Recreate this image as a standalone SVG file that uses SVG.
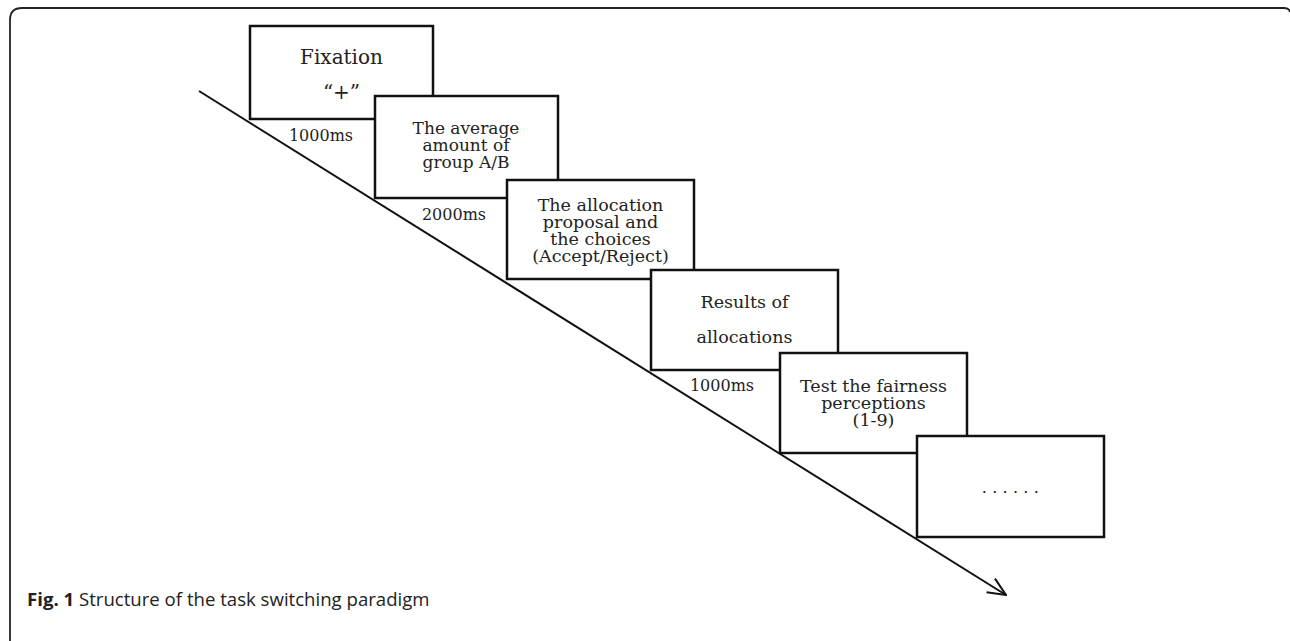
<svg xmlns="http://www.w3.org/2000/svg" width="1290" height="641" viewBox="0 0 1290 641">
<defs>
<style>
.box{fill:#fff;stroke:#111;stroke-width:2.5}
.t{font-family:"DejaVu Serif","Liberation Serif",serif;fill:#222;text-anchor:middle}
.ms{font-family:"DejaVu Serif","Liberation Serif",serif;fill:#222;text-anchor:middle;font-size:16px}
.cap{font-family:"Open Sans","Noto Sans",sans-serif;font-size:18.6px;fill:#222}
</style>
<marker id="arr" viewBox="0 0 20 20" refX="19" refY="10" markerWidth="20" markerHeight="20" markerUnits="userSpaceOnUse" orient="auto">
<path d="M1,2 L19,10 L1,18" fill="none" stroke="#111" stroke-width="2"/>
</marker>
</defs>
<rect width="1290" height="641" fill="#fff"/>
<path d="M10,641 L10,20 Q10,8 22,8 L1284,8 Q1289,8 1290,12" fill="none" stroke="#222" stroke-width="1.8"/>
<g id="connectors">
<line x1="199" y1="91" x2="1006" y2="595" stroke="#111" stroke-width="2" marker-end="url(#arr)"/>
</g>
<g id="labels">
<text class="ms" x="321" y="141">1000ms</text>
<text class="ms" x="454" y="220">2000ms</text>
<text class="ms" x="722" y="391">1000ms</text>
</g>
<g id="n1">
<rect class="box" x="250" y="26" width="183" height="93"/>
<text class="t" x="341.5" y="64" font-size="20">Fixation</text>
<text class="t" x="341.5" y="99" font-size="20">“+”</text>
</g>
<g id="n2">
<rect class="box" x="375" y="96" width="183" height="102"/>
<text class="t" x="466" y="134" font-size="17">The average</text>
<text class="t" x="466" y="151" font-size="17">amount of</text>
<text class="t" x="466" y="168" font-size="17">group A/B</text>
</g>
<g id="n3">
<rect class="box" x="507" y="180" width="187" height="99"/>
<text class="t" x="600.5" y="211" font-size="17.5">The allocation</text>
<text class="t" x="600.5" y="228" font-size="17.5">proposal and</text>
<text class="t" x="600.5" y="245" font-size="17.5">the choices</text>
<text class="t" x="600.5" y="262" font-size="17.5">(Accept/Reject)</text>
</g>
<g id="n4">
<rect class="box" x="651" y="270" width="187" height="100"/>
<text class="t" x="744.5" y="308" font-size="17.5">Results of</text>
<text class="t" x="744.5" y="343" font-size="17.5">allocations</text>
</g>
<g id="n5">
<rect class="box" x="780" y="353" width="187" height="100"/>
<text class="t" x="873.5" y="392" font-size="17.5">Test the fairness</text>
<text class="t" x="873.5" y="409" font-size="17.5">perceptions</text>
<text class="t" x="873.5" y="426" font-size="17.5">(1-9)</text>
</g>
<g id="n6">
<rect class="box" x="917" y="436" width="187" height="101"/>
<text class="t" x="1013" y="493" font-size="16" letter-spacing="5.3">......</text>
</g>
<text class="cap" x="27" y="606"><tspan font-weight="bold">Fig. 1</tspan> Structure of the task switching paradigm</text>
</svg>
